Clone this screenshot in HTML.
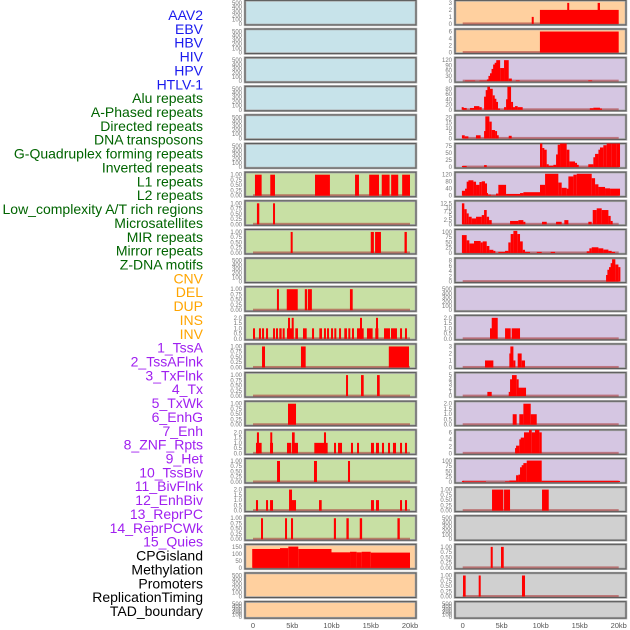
<!DOCTYPE html>
<html><head><meta charset="utf-8"><style>
html,body{margin:0;padding:0;background:#fff;width:630px;height:630px;overflow:hidden}
svg{display:block;font-family:"Liberation Sans",sans-serif}
</style></head><body>
<svg id="chart" width="630" height="630" viewBox="0 0 630 630" xmlns="http://www.w3.org/2000/svg"></svg>
<script>
const trackLabels = ["AAV2","EBV","HBV","HIV","HPV","HTLV-1","Alu repeats","A-Phased repeats","Directed repeats","DNA transposons","G-Quadruplex forming repeats","Inverted repeats","L1 repeats","L2 repeats","Low_complexity A/T rich regions","Microsatellites","MIR repeats","Mirror repeats","Z-DNA motifs","CNV","DEL","DUP","INS","INV","1_TssA","2_TssAFlnk","3_TxFlnk","4_Tx","5_TxWk","6_EnhG","7_Enh","8_ZNF_Rpts","9_Het","10_TssBiv","11_BivFlnk","12_EnhBiv","13_ReprPC","14_ReprPCWk","15_Quies","CPGisland","Methylation","Promoters","ReplicationTiming","TAD_boundary"];
const labelGroups = ["#1a1aee","#1a1aee","#1a1aee","#1a1aee","#1a1aee","#1a1aee","#006400","#006400","#006400","#006400","#006400","#006400","#006400","#006400","#006400","#006400","#006400","#006400","#006400","#ffa500","#ffa500","#ffa500","#ffa500","#ffa500","#a020f0","#a020f0","#a020f0","#a020f0","#a020f0","#a020f0","#a020f0","#a020f0","#a020f0","#a020f0","#a020f0","#a020f0","#a020f0","#a020f0","#a020f0","#000","#000","#000","#000","#000"];
const xTickValues = [0,5,10,15,20];
const xTickLabels = ["0","5kb","10kb","15kb","20kb"];

const T_EMPTY = [0,100,200,300,400,500];
const T_01 = [0,0.25,0.5,0.75,1];
const T_02 = [0,0.5,1,1.5,2];

const L6 = [[0.25,1.1,1],[2.2,2.8,1],[7.9,9.8,1],[13,13.5,1],[14.8,16.05,1],[16.4,17.4,1],[17.6,18.5,1],[19,20,1]];
const L7 = [[0.5,0.8,1],[2.55,2.8,1]];
const L8 = [[4.8,5.05,1],[15,15.4,1],[15.55,16.3,1],[19.3,19.6,1]];
const L10 = [[3.05,3.3,1],[4.3,5.7,1],[6.6,6.9,1],[7,7.5,1],[12.35,12.7,1]];
const L11 = [[0,0.21,1],[0.76,0.98,1],[1.15,1.36,1],[1.66,1.87,1],[2.55,2.76,1],[2.93,3.14,1],[3.35,3.65,1],[3.78,4.03,1],[4.33,5.18,1],[4.46,4.67,2],[4.93,5.14,2],[5.39,5.73,1],[6.37,6.84,1],[7.52,7.73,1],[8.45,8.79,1],[9.04,9.26,1],[9.43,9.64,1],[9.94,10.15,1],[10.36,10.57,1],[10.96,11.17,1],[11.63,11.97,1],[12.14,12.36,1],[12.61,12.82,1],[13.25,14.1,1],[13.63,13.84,2],[14.52,15.24,1],[15.58,15.97,1],[15.67,15.88,2],[16.69,17.45,1],[17.58,18.34,1],[18.73,18.94,1],[19.36,19.58,1]];
const L12 = [[1.15,1.53,1],[6.11,6.71,1],[17.3,19.87,1]];
const L13 = [[11.85,12.1,1],[13.76,14.1,1],[15.8,16.14,1]];
const L14 = [[4.46,5.48,1]];
const L15 = [[0.38,1.1,1],[0.5,0.76,2],[2.17,2.55,1],[2.2,2.42,2],[4.33,4.84,1],[4.93,5.73,1],[4.97,5.31,2],[7.81,9.51,1],[9.04,9.3,2],[10.32,10.57,1],[10.83,11.34,1],[12.48,12.74,1],[13.25,13.5,1],[15.03,15.41,1],[15.67,16.05,1],[16.43,16.69,1],[17.2,17.45,1],[17.83,18.22,1],[18.73,18.98,1],[19.36,19.62,1]];
const L16 = [[3.06,3.44,1],[7.77,8.15,1],[12.1,12.36,1]];
const L17 = [[0.38,0.64,1],[1.66,1.91,1],[2.17,2.55,1],[4.59,4.97,2],[4.97,5.48,1],[8.41,8.75,1],[15.03,15.41,1],[15.67,16.05,1],[18.73,18.98,1],[19.36,19.62,1]];
const L18 = [[1.02,1.27,1],[4.08,4.33,1],[4.84,5.1,1],[10.3,10.57,1],[11.9,12.2,1],[13.6,13.9,1],[18.4,18.7,1]];
const L19 = [[-0.1,3.44,135],[3.44,4.5,141],[4.5,5.77,152],[5.77,10,135],[10,12.36,111],[12.36,13.2,115],[13.2,13.84,111],[13.84,15,115],[15,20,109]];

const R0 = [[8.85,9.1,1],[9.9,20,2],[13.4,13.6,3],[17.3,17.6,3]];
const R1 = [[9.9,20,6]];
const R2 = [[0.3,1.6,3],[2.15,3.1,3],[3.1,3.3,10],[3.3,3.5,30],[3.5,3.7,45],[3.7,3.9,70],[3.9,4.1,95],[4.1,4.3,105],[4.3,4.8,120],[4.8,5.3,75],[5.3,5.9,120],[5.9,6.3,15],[6.8,7.3,4],[16.1,16.6,4]];
const R3 = [[-0.13,0.09,10],[0.09,0.51,7],[0.94,1.45,7],[1.45,2.14,14],[2.14,2.44,10],[2.74,2.95,50],[2.95,3.16,75],[3.16,3.5,88],[3.5,3.85,80],[3.85,4.06,55],[4.06,4.27,42],[4.27,4.49,30],[4.49,4.79,5],[5.3,5.56,10],[5.56,5.73,40],[5.73,6.2,88],[6.2,6.41,30],[6.41,6.71,10],[6.71,7.05,14],[7.05,7.69,10],[16.3,16.75,6],[16.75,17.6,8],[17.6,17.8,5]];
const R4 = [[-0.1,0.26,3],[0.26,0.73,2],[1.7,2.3,3],[2.74,2.9,7],[2.9,3.42,21],[3.42,3.72,16],[3.72,4.15,8],[4.15,4.36,7],[4.36,4.53,3],[5.9,6.28,2.5]];
const R5 = [[-0.1,0.51,4],[2.74,3.08,7],[9.91,10.21,85],[10.21,10.43,68],[10.43,10.77,62],[10.77,10.98,10],[10.98,11.62,5],[11.62,11.97,8],[11.97,12.18,45],[12.18,12.48,80],[12.48,12.69,90],[12.69,13.33,92],[13.33,13.68,62],[13.68,14.4,20],[14.4,14.62,15],[14.62,14.83,8],[16.1,16.75,10],[16.75,16.97,35],[16.97,17.4,47],[17.4,17.6,62],[17.6,18.03,70],[18.03,18.46,78],[18.46,19.1,85],[19.1,19.3,90],[19.3,19.74,88],[19.74,20.17,92]];
const R6 = [[-0.1,0.3,28],[0.3,0.51,40],[0.51,0.73,80],[0.73,1.37,88],[1.37,1.71,80],[1.71,2.14,62],[2.14,2.44,78],[2.44,2.86,82],[2.86,2.99,70],[2.99,3.16,15],[3.16,3.63,6],[3.63,4.27,2],[4.27,4.57,12],[4.57,5.56,62],[5.56,7.35,10],[7.35,7.78,15],[7.78,9.91,20],[9.91,10.56,62],[10.56,12.26,125],[12.26,12.69,75],[12.69,13.33,45],[13.33,13.55,40],[13.55,14.19,110],[14.19,14.62,120],[14.62,16.54,125],[16.54,16.97,100],[16.97,17.4,65],[17.4,18.25,50],[18.25,18.89,42],[18.89,20.17,40]];
const R7 = [[-0.1,0.21,12.5],[0.21,0.51,9],[0.51,0.77,6.5],[0.77,1.15,4.5],[1.15,1.71,3.5],[1.71,2.44,4.5],[2.44,2.74,5.5],[2.74,3.08,8.5],[3.08,3.38,4.5],[3.38,3.72,2.5],[6.07,7.14,2],[7.14,7.78,2.5],[7.78,7.99,1.5],[10.17,10.77,1.5],[11.97,12.69,1.5],[13.03,13.55,2.5],[16.11,16.54,1.5],[16.67,17.18,8.5],[17.18,17.82,9.5],[17.82,18.68,8.5],[18.68,18.97,5],[18.97,19.1,2]];
const R8 = [[-0.1,0.51,85],[0.51,0.85,60],[0.85,1.45,45],[1.45,2.3,57],[2.3,2.56,50],[2.56,3.08,55],[3.08,3.42,33],[3.42,3.93,15],[3.93,4.15,10],[4.57,5.43,5],[5.43,5.85,10],[5.85,6.15,50],[6.15,6.5,90],[6.5,7.0,105],[7.0,7.35,90],[7.35,7.7,55],[7.7,7.99,15],[7.99,8.63,5],[9.5,10.13,5],[11.28,11.84,5],[15.9,16.24,8],[16.24,16.54,22],[16.54,17.4,27],[17.4,18.03,22],[18.03,18.68,16],[18.68,19.1,10],[19.1,19.53,5]];
const R9 = [[18.38,18.55,2.5],[18.55,18.76,4.5],[18.76,18.97,5.5],[18.97,19.15,7],[19.15,19.57,8.5],[19.57,19.96,6.5],[19.96,20.17,5.5]];
const R11 = [[3.5,3.72,1],[3.72,4.49,2],[5.43,6.15,1],[6.28,7.35,1]];
const R12 = [[2.86,3.93,1],[5.98,6.11,2],[6.11,6.5,3],[6.5,6.71,1],[7.05,7.56,2],[7.56,7.99,1]];
const R13 = [[3.16,3.72,1],[5.9,6.07,1],[6.07,6.32,4],[6.32,6.92,5],[6.92,7.14,4],[7.14,8.12,2]];
const R14 = [[6.41,6.92,1],[7.26,7.78,1],[7.78,8.72,2],[8.72,9.49,1]];
const R15 = [[6.71,6.84,1.5],[6.84,7.26,2.2],[7.26,7.44,4],[7.44,7.86,4.5],[7.86,8.5,6],[8.5,8.85,7],[8.85,9.27,6],[9.27,9.83,7],[9.83,10.13,6]];
const R16 = [[-0.1,0.09,5],[0.09,2.99,3],[5.43,5.98,3],[5.98,6.84,7],[6.84,7.14,32],[7.14,7.35,35],[7.35,7.56,70],[7.56,7.78,80],[7.78,8.21,90],[8.21,10.13,102],[10.13,20.17,5]];
const R17 = [[3.76,5.21,1],[5.3,6.07,1],[10.17,11.03,1]];
const R19 = [[3.59,3.85,1],[4.91,5.26,1]];
const R20 = [[0.04,0.38,1],[2.05,2.31,1],[7.6,7.99,1]];

const BG = {blue:"#c7e3ea",orange:"#ffd09f",purple:"#d5c6e2",green:"#c8e0a4",gray:"#d0d0d0"};
const leftPanels = [
 ["blue",null,T_EMPTY],["blue",null,T_EMPTY],["blue",null,T_EMPTY],["blue",null,T_EMPTY],["blue",null,T_EMPTY],["blue",null,T_EMPTY],
 ["green",L6,T_01],["green",L7,T_01],["green",L8,T_01],["green",null,T_EMPTY],["green",L10,T_01],["green",L11,T_02],
 ["green",L12,T_01],["green",L13,T_01],["green",L14,T_01],["green",L15,T_02],["green",L16,T_01],["green",L17,T_02],["green",L18,T_01],
 ["orange",L19,[0,50,100,150]],["orange",null,T_EMPTY],["orange",null,T_EMPTY]];
const rightPanels = [
 ["orange",R0,[0,1,2,3]],["orange",R1,[0,2,4,6]],["purple",R2,[0,30,60,90,120]],["purple",R3,[0,20,40,60,80]],["purple",R4,[0,5,10,15,20]],
 ["purple",R5,[0,25,50,75]],["purple",R6,[0,40,80,120]],["purple",R7,[0,2.5,5,7.5,10,12.5]],["purple",R8,[0,25,50,75,100]],["purple",R9,[0,2,4,6,8]],
 ["purple",null,T_EMPTY],["purple",R11,T_02],["purple",R12,[0,1,2,3]],["purple",R13,[0,1,2,3,4,5]],["purple",R14,T_02],["purple",R15,[0,2,4,6]],
 ["purple",R16,[0,25,50,75,100]],["gray",R17,T_01],["gray",null,T_EMPTY],["gray",R19,T_01],["gray",R20,T_01],["gray",null,T_EMPTY]];

const NS="http://www.w3.org/2000/svg";
const svg=document.getElementById("chart");
function mk(tag,attrs,parent){const e=document.createElementNS(NS,tag);for(const k in attrs)e.setAttribute(k,attrs[k]);(parent||svg).appendChild(e);return e;}
function fmt(v,ticks){
  if(ticks===T_01) return v.toFixed(2);
  if(ticks===T_02) return v.toFixed(1);
  return String(v);
}

trackLabels.forEach((t,i)=>{
  const e=mk("text",{x:203,y:20+i*13.86,"text-anchor":"end","font-size":"14",fill:labelGroups[i]});
  e.textContent=t;
  
  
});

function drawPanel(col,i,def){
  const [bg,data,ticks]=def;
  const left = col===0?245:455, w=171;
  const top = 0.4+i*28.63, h = i===21?16.5:24.5;
  const x0 = col===0?253:462.7, x1 = col===0?410:618.7;
  const xs = kb=>x0+kb*(x1-x0)/20;
  const g=mk("g",{});
  
  
  const cid='c'+col+'_'+i;
  const cp=mk("clipPath",{id:cid},g); mk("rect",{x:left,y:top,width:w,height:h},cp);
  const bgr=mk("rect",{x:left,y:top,width:w,height:h,fill:BG[bg],stroke:"#aaa","stroke-width":2.5},g);
  
  
  mk("rect",{x:left,y:top,width:w,height:h,fill:"none",stroke:"#5a5a5a","stroke-width":1},g);
  const maxT=ticks[ticks.length-1];
  const yb=top+h-1, yt=top+2.5;
  const ys=v=>yb-v/maxT*(yb-yt);
  ticks.forEach(t=>{
    const e=mk("text",{x:left-3,y:ys(t)+2,"text-anchor":"end","font-size":"6",fill:"#777"},g);
    e.textContent=fmt(t,ticks);
    
    
  });
  if(!data) return;
  const dg=mk("g",{"clip-path":"url(#"+cid+")"},g);
  mk("rect",{x:xs(0),y:yb-1.5,width:xs(20)-xs(0),height:2,fill:"rgba(170,50,50,0.55)"},dg);
  data.forEach(s=>{
    const xa=xs(s[0]), xb=xs(s[1]);
    const wd=Math.max(xb-xa,2);
    const r=mk("rect",{x:xa,y:ys(s[2]),width:wd,height:yb-ys(s[2]),fill:"#ff0000"},dg);
    
    
  });
}
leftPanels.forEach((d,i)=>drawPanel(0,i,d));
rightPanels.forEach((d,i)=>drawPanel(1,i,d));

[[253,410],[462.7,618.7]].forEach((r,c)=>{
  xTickValues.forEach((v,j)=>{
    const e=mk("text",{x:r[0]+v*(r[1]-r[0])/20,y:628,"text-anchor":"middle","font-size":"7.5",fill:"#555"});
    e.textContent=xTickLabels[j];
    
    
  });
});
</script>
</body></html>
